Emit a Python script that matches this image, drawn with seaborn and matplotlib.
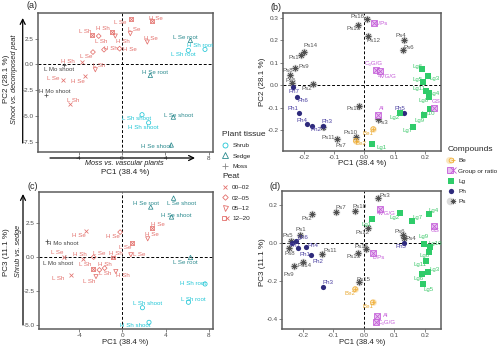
import numpy as np
import pandas as pd
import matplotlib
matplotlib.use("Agg")
import matplotlib.pyplot as plt
import seaborn as sns
from matplotlib.lines import Line2D
from matplotlib.legend_handler import HandlerTuple
from matplotlib.ticker import FormatStrFormatter, FixedLocator

# --------------------------------------------------
# data: samples (panels a, c)
# --------------------------------------------------

peat_label = ["H Se", "L Se", "L Sh", "H Sh", "L Se", "L Sh", "H Sh", "H Se",
              "H Sh", "H Se", "L Se", "H Sh", "L Sh", "L Se", "H Se", "L Sh"]
peat_depth = ["12–20", "12–20", "12–20", "12–20", "05–12", "02–05", "05–12", "05–12",
              "02–05", "02–05", "02–05", "00–02", "05–12", "00–02", "00–02", "00–02"]
peat_pc1 = [2.77, 0.86, -2.77, -0.92, 0.77, -2.15, -0.62, 2.34,
            -1.66, -0.22, -2.68, -3.66, -2.46, -5.45, -3.38, -4.77]
peat_pc2 = [4.19, 4.35, 2.84, 3.13, 2.97, 2.74, 2.74, 2.16,
            1.42, 1.52, 1.19, 0.19, -0.52, -1.52, -1.16, -3.87]
peat_pc3 = [2.11, 1.00, -0.86, -0.05, 0.15, -0.96, -1.08, 1.32,
            -0.83, 1.81, -0.02, -0.15, -1.45, 0.02, 1.86, -1.32]

tissue_label = ["L Mo shoot", "H Mo shoot", "L Se root", "H Se root", "L Se shoot",
                "H Se shoot", "H Sh root", "L Sh root", "L Sh shoot", "H Sh shoot"]
tissue_type = ["Moss", "Moss", "Sedge", "Sedge", "Sedge",
               "Sedge", "Shrub", "Shrub", "Shrub", "Shrub"]
tissue_pc1 = [-5.35, -6.98, 6.31, 2.62, 4.74, 4.55, 7.66, 6.12, 1.85, 2.46]
tissue_pc2 = [-0.03, -3.00, 2.32, -1.06, -5.10, -7.80, 1.45, 1.35, -4.87, -5.65]
tissue_pc3 = [-0.02, 1.13, -0.05, 3.65, 4.30, 2.92, -1.99, -3.33, -3.73, -4.80]

# --------------------------------------------------
# data: compound loadings (panels b, d)
# --------------------------------------------------

comp_name = ["Ps1", "Ps2", "Ps3", "Ps4", "Ps5", "Ps6", "Ps7", "Ps8", "Ps9", "Ps10",
             "Ps11", "Ps12", "Ps13", "Ps14", "Ps15", "Ps16",
             "Ph1", "Ph2", "Ph3", "Ph4", "Ph5", "Ph6", "Ph7",
             "Be1", "Be2",
             "Lg1", "Lg2", "Lg3", "Lg4", "Lg5", "Lg6", "Lg7", "Lg8", "Lg9", "Lg10", "Lg11",
             "L/Ps", "C\u2083G/G", "4VG/G", "Al", "GS"]
comp_class = ["Ps"] * 16 + ["Ph"] * 7 + ["Be"] * 2 + ["Lg"] * 11 + ["Group or ratio"] * 5
comp_pc1 = [-0.210, -0.170, 0.045, 0.132, -0.238, 0.127, -0.091, -0.246, -0.229, -0.029,
            -0.137, 0.013, -0.020, -0.200, -0.017, 0.007,
            -0.215, -0.174, -0.136, -0.191, 0.130, -0.224, -0.235,
            0.029, -0.029,
            0.026, 0.117, 0.209, 0.215, 0.194, 0.191, 0.159, 0.214, 0.196, 0.218, 0.203,
            0.031, 0.039, 0.052, 0.044, 0.229]
comp_pc2 = [0.136, 0.003, -0.151, 0.203, 0.009, 0.155, -0.240, 0.046, 0.076, -0.230,
            -0.185, 0.221, 0.270, 0.150, -0.093, 0.296,
            -0.125, -0.181, -0.181, -0.175, -0.125, -0.051, -0.010,
            -0.196, -0.248,
            -0.263, -0.125, 0.039, -0.036, 0.013, 0.072, -0.185, -0.054, -0.133, -0.107, -0.028,
            0.278, 0.066, 0.063, -0.133, -0.103]
comp_pc3 = [0.040, 0.151, 0.237, 0.023, 0.011, 0.040, 0.163, -0.030, -0.123, 0.168,
            -0.060, 0.075, -0.053, -0.104, -0.209, -0.035,
            -0.030, -0.065, -0.232, -0.021, 0.000, 0.009, -0.004,
            -0.314, -0.244,
            0.123, 0.158, -0.153, 0.149, -0.219, -0.165, 0.114, -0.047, -0.007, -0.021, -0.096,
            -0.053, -0.419, 0.175, -0.384, 0.088]

# label offsets (pixels, x right / y down), same order as the data above
off_a = [(4, -3), (-11, 3), (-7, -4), (-9, -4), (4, -4), (3, 5), (8, 5), (4, -4),
         (7, -1), (10, 1), (-7, 4), (-14, -1), (4, -4), (-10, -2), (-7, 5), (3, -4),
         (-5, 5), (8, -4), (-5, -3), (5, -3), (5, -2), (-15, 2), (-5, -4), (-5, 4), (-5, 4), (-5, 5)]
off_c = [(6, -4), (-7, 4), (-7, -4), (3, -4), (8, 0), (6, 4), (7, 4), (4, -4),
         (0, -4), (-7, 4), (6, -4), (-3, -4), (-7, 5), (-7, -4), (-7, 4), (-13, 4),
         (-7, 6), (15, 2), (-5, 5), (-5, -4), (8, 5), (5, -1), (-12, 0), (5, -3), (5, -4), (-14, 3)]
off_b = [(-7, 3), (-6, 4), (5, 4), (-4, -4), (-2, -3), (6, -3), (4, 7), (-2, -4), (9, -2), (-5, -4),
         (5, 11), (5, 5), (-5, 4), (7, -6), (-6, 3), (-9, -2),
         (-6, -5), (4, 4), (4, -4), (-5, -4), (-4, -5), (6, 4), (1, 4),
         (-5, 4), (5, 3),
         (9, 3), (-5, 4), (7, 2), (5, 0), (-6, -3), (-5, -3), (-5, 4), (-6, 3), (-4, 6), (-2, 4), (-7, -3),
         (8, 1), (-2, -7), (7, 5), (4, -6), (2, -7)]
off_d = [(1, -6), (-5, 4), (7, -2), (7, 0), (-4, -5), (-3, -4), (5, -4), (1, 5), (-5, 8), (4, -4),
         (8, -4), (-5, 4), (-4, 4), (2, 3), (5, -3), (-5, -3),
         (6, 6), (7, 6), (5, -4), (7, -1), (-3, 4), (7, -3), (3, 2),
         (-5, 4), (-5, 4),
         (-5, 5), (-5, 5), (7, -2), (4, -4), (6, 5), (-4, 4), (5, -4), (-5, 4), (0, -8), (5, -3), (-6, 4),
         (5, 5), (11, 0), (7, 4), (8, 0), (1, 5)]

# --------------------------------------------------
# tables
# --------------------------------------------------

samples = pd.concat([
    pd.DataFrame({"Label": peat_label, "Group": "Peat", "Peat": peat_depth,
                  "PC1": peat_pc1, "PC2": peat_pc2, "PC3": peat_pc3}),
    pd.DataFrame({"Label": tissue_label, "Group": tissue_type, "Peat": "",
                  "PC1": tissue_pc1, "PC2": tissue_pc2, "PC3": tissue_pc3}),
], ignore_index=True)

comps = pd.DataFrame({"Name": comp_name, "Class": comp_class,
                      "PC1": comp_pc1, "PC2": comp_pc2, "PC3": comp_pc3})

# --------------------------------------------------
# styles
# --------------------------------------------------

salmon = "#e3706c"
shrub_c = "#20c6d6"
sedge_c = "#2b8a8e"
moss_c = "#555555"
be_c = "#f0b03a"
grp_c = "#c45ad8"
lg_c = "#2fcc6a"
ph_c = "#2e2a7c"
ps_c = "#505050"

sample_text = {"Peat": salmon, "Shrub": shrub_c, "Sedge": sedge_c, "Moss": "#444444"}
comp_text = {"Ps": "#555555", "Ph": "#4a3fa0", "Lg": "#3cc86a", "Be": "#e8a830", "Group or ratio": grp_c}

def open_(c):
    return dict(color=c, facecolor="none", edgecolor=c, linewidth=0.55)

def line_(c):
    return dict(color=c, linewidth=0.55)

tissue_mk = {"Shrub": [("o", 9, open_(shrub_c))],
             "Sedge": [("^", 10, open_(sedge_c))],
             "Moss": [("+", 12, line_(moss_c))]}
peat_mk = {"00–02": [("x", 8, line_(salmon))],
           "02–05": [("D", 6, open_(salmon))],
           "05–12": [("v", 9, open_(salmon))],
           "12–20": [("s", 8, open_(salmon)), ("x", 8, line_(salmon))]}
comp_mk = {"Ps": [("o", 30, dict(color="#c4c4c4", alpha=0.6, linewidth=0)),
                  ((8, 2, 0), 14, line_(ps_c))],
           "Ph": [("o", 14, dict(color=ph_c, linewidth=0))],
           "Be": [("o", 24, dict(color=be_c, alpha=0.3, linewidth=0)),
                  ("o", 11, open_(be_c)), ("+", 11, line_(be_c))],
           "Lg": [("s", 13, dict(color=lg_c, linewidth=0))],
           "Group or ratio": [("s", 13, dict(color=grp_c, facecolor="#e8c4f0",
                                             edgecolor=grp_c, linewidth=0.55)),
                              ("x", 13, line_(grp_c))]}

sns.set_style("white")
plt.rcParams["font.family"] = ["Liberation Sans", "DejaVu Sans"]
plt.rcParams["axes.unicode_minus"] = False

W, H = 500, 349
fig = plt.figure(figsize=(W / 100, H / 100), dpi=100)

def box(l, t, r, b):
    return [l / W, 1 - b / H, (r - l) / W, (b - t) / H]

def style_ax(ax, xlim, ylim, xt, yt, xfmt, yfmt):
    ax.set_xlim(*xlim)
    ax.set_ylim(*ylim)
    ax.xaxis.set_major_locator(FixedLocator(xt))
    ax.yaxis.set_major_locator(FixedLocator(yt))
    ax.xaxis.set_major_formatter(FormatStrFormatter(xfmt))
    ax.yaxis.set_major_formatter(FormatStrFormatter(yfmt))
    ax.tick_params(labelsize=4.6, labelcolor="#4d4d4d", color="#555555",
                   length=2, width=0.5, pad=1, bottom=True, left=True)
    for s in ax.spines.values():
        s.set_color("#5c5c5c")
        s.set_linewidth(1.1)
    ax.axhline(0, color="black", lw=0.7, ls=(0, (3, 2)), zorder=0)
    ax.axvline(0, color="black", lw=0.7, ls=(0, (3, 2)), zorder=0)
    ax.set_xlabel("")
    ax.set_ylabel("")

def draw_samples(ax, ycol, offs):
    for g, specs in tissue_mk.items():
        sub = samples[samples.Group == g]
        for m, s, kw in specs:
            sns.scatterplot(data=sub, x="PC1", y=ycol, marker=m, s=s, ax=ax, legend=False, **kw)
    for d, specs in peat_mk.items():
        sub = samples[samples.Peat == d]
        for m, s, kw in specs:
            sns.scatterplot(data=sub, x="PC1", y=ycol, marker=m, s=s, ax=ax, legend=False, **kw)
    for (i, r), (dx, dy) in zip(samples.iterrows(), offs):
        ax.annotate(r.Label, (r.PC1, r[ycol]), xytext=(dx, -dy), textcoords="offset pixels",
                    ha="center", va="center", fontsize=4.4, color=sample_text[r.Group])

def draw_comps(ax, ycol, offs, segs):
    for c, specs in comp_mk.items():
        sub = comps[comps.Class == c]
        for m, s, kw in specs:
            sns.scatterplot(data=sub, x="PC1", y=ycol, marker=m, s=s, ax=ax, legend=False, **kw)
    for (i, r), (dx, dy) in zip(comps.iterrows(), offs):
        ap = None
        if r.Name in segs:
            ap = dict(arrowstyle="-", color=comp_text[r.Class], lw=0.5, shrinkA=1, shrinkB=1)
        ax.annotate(r.Name, (r.PC1, r[ycol]), xytext=(dx, -dy), textcoords="offset pixels",
                    ha="center", va="center", fontsize=4.4, color=comp_text[r.Class],
                    arrowprops=ap)

# --------------------------------------------------
# panels
# --------------------------------------------------

ax_a = fig.add_axes(box(38, 13, 213, 152))
draw_samples(ax_a, "PC2", off_a)
style_ax(ax_a, (-7.75, 8.4), (-8.48, 4.97), [-4, 0, 4, 8], [-7.5, -5, -2.5, 0, 2.5], "%d", "%.1f")

ax_b = fig.add_axes(box(283, 13, 441, 151))
draw_comps(ax_b, "PC2", off_b, ["Ps11"])
style_ax(ax_b, (-0.269, 0.253), (-0.294, 0.322), [-0.2, -0.1, 0, 0.1, 0.2],
         [-0.2, -0.1, 0, 0.1, 0.2, 0.3], "%.1f", "%.1f")

ax_c = fig.add_axes(box(39, 192, 213, 329))
draw_samples(ax_c, "PC3", off_c)
style_ax(ax_c, (-7.75, 8.4), (-5.29, 4.75), [-4, 0, 4, 8], [-5, -2.5, 0, 2.5], "%d", "%.1f")

ax_d = fig.add_axes(box(282, 191, 441, 329))
draw_comps(ax_d, "PC3", off_d, ["Ph6"])
style_ax(ax_d, (-0.269, 0.253), (-0.454, 0.272), [-0.2, -0.1, 0, 0.1, 0.2],
         [-0.4, -0.2, 0, 0.2], "%.1f", "%.1f")

# axis titles, tags and direction arrows
def ftext(x, y, s, **kw):
    fig.text(x / W, 1 - y / H, s, ha="center", va="center", **kw)

ftext(32, 6, "(a)", fontsize=6.5)
ftext(276, 7, "(b)", fontsize=6.5)
ftext(33, 186, "(c)", fontsize=6.5)
ftext(275, 186, "(d)", fontsize=6.5)

ftext(125, 173, "PC1 (38.4 %)", fontsize=5.8, color="#222222")
ftext(7, 79, "PC2 (28.1 %)", fontsize=5.8, color="#222222", rotation=90)
ftext(362, 164, "PC1 (38.4 %)", fontsize=5.8, color="#222222")
ftext(263, 82, "PC2 (28.1 %)", fontsize=5.8, color="#222222", rotation=90)
ftext(125, 342, "PC1 (38.4 %)", fontsize=5.6, color="#222222")
ftext(7, 252, "PC3 (11.1 %)", fontsize=5.8, color="#222222", rotation=90)
ftext(362, 342, "PC1 (38.4 %)", fontsize=5.6, color="#222222")
ftext(263, 262, "PC3 (11.1 %)", fontsize=5.8, color="#222222", rotation=90)

ftext(124, 163.5, "Moss vs. vascular plants", fontsize=5.2, style="italic", color="#222222")
ftext(15, 79, "Shoot vs. decomposed peat", fontsize=5.2, style="italic", color="#222222", rotation=90)
ftext(18.5, 251, "Shrub vs. sedge", fontsize=5.2, style="italic", color="#222222", rotation=90)

arrow = dict(arrowstyle="->", color="black", lw=0.9, mutation_scale=9, shrinkA=0, shrinkB=0)
fig.add_artist(matplotlib.patches.FancyArrowPatch((50 / W, 1 - 158 / H), (195 / W, 1 - 158 / H),
                                                  transform=fig.transFigure, **arrow))
fig.add_artist(matplotlib.patches.FancyArrowPatch((22.7 / W, 1 - 143 / H), (22.7 / W, 1 - 18 / H),
                                                  transform=fig.transFigure, **arrow))
fig.add_artist(matplotlib.patches.FancyArrowPatch((23 / W, 1 - 325 / H), (23 / W, 1 - 194 / H),
                                                  transform=fig.transFigure, **arrow))

# --------------------------------------------------
# legends
# --------------------------------------------------

def mk(m, c, ms, fc=None, alpha=1.0, mew=0.6):
    return Line2D([], [], ls="none", marker=m, color=c, markersize=ms,
                  markerfacecolor=c if fc is None else fc, markeredgecolor=c,
                  markeredgewidth=mew, alpha=alpha)

leg_kw = dict(frameon=False, fontsize=4.6, title_fontsize=6, handlelength=1.0,
              handletextpad=0.6, labelspacing=0.75, borderpad=0, borderaxespad=0,
              loc="upper left", handler_map={tuple: HandlerTuple(ndivide=None, pad=0)})

tis_h = [mk("o", shrub_c, 3.6, fc="none"), mk("^", sedge_c, 3.8, fc="none"), mk("+", "#888888", 4.5)]
l1 = fig.legend(tis_h, ["Shrub", "Sedge", "Moss"], title="Plant tissue",
                bbox_to_anchor=(222 / W, 1 - 131 / H), **leg_kw)
l1._legend_box.align = "left"

peat_h = [mk("x", salmon, 3.3), mk("D", salmon, 2.8, fc="none"), mk("v", salmon, 3.6, fc="none"),
          (mk("s", salmon, 3.3, fc="none"), mk("x", salmon, 3.3))]
l2 = fig.legend(peat_h, ["00–02", "02–05", "05–12", "12–20"], title="Peat",
                bbox_to_anchor=(222 / W, 1 - 173 / H), **leg_kw)
l2._legend_box.align = "left"

comp_h = [(mk("o", be_c, 5.0, alpha=0.3, mew=0), mk("o", be_c, 3.4, fc="none"), mk("+", be_c, 3.4)),
          (mk("s", grp_c, 3.8, fc="#e8c4f0"), mk("x", grp_c, 3.8)),
          mk("s", lg_c, 3.8, mew=0),
          mk("o", ph_c, 3.8, mew=0),
          (mk("o", "#c4c4c4", 5.5, alpha=0.6, mew=0), mk((8, 2, 0), ps_c, 3.8, mew=0.5))]
l3 = fig.legend(comp_h, ["Be", "Group or ratio", "Lg", "Ph", "Ps"], title="Compounds",
                bbox_to_anchor=(448 / W, 1 - 146 / H), **leg_kw)
l3._legend_box.align = "left"

plt.savefig("out.png", dpi=100)
